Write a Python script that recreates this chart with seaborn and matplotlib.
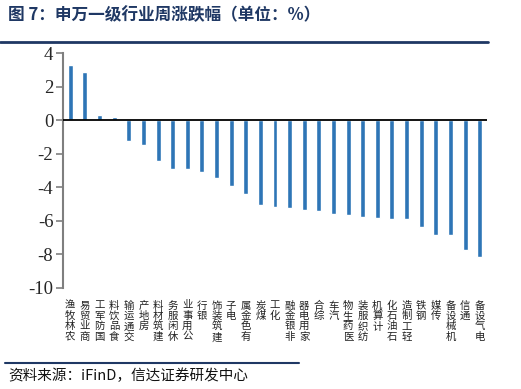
import matplotlib
matplotlib.use("Agg")
import matplotlib.pyplot as plt
import seaborn as sns
import pandas as pd
from matplotlib.lines import Line2D

industries = ["农林牧渔", "商业贸易", "国防军工", "食品饮料", "交通运输", "房地产", "建筑材料",
              "休闲服务", "公用事业", "银行", "建筑装饰", "电子", "有色金属", "煤炭", "化工",
              "非银金融", "家用电器", "综合", "汽车", "医药生物", "纺织服装", "计算机",
              "石油石化", "轻工制造", "钢铁", "传媒", "机械设备", "通信", "电气设备"]
changes = [3.28, 2.87, 0.28, 0.18, -1.27, -1.49, -2.43, -2.89, -2.93, -3.08, -3.44, -3.92,
           -4.40, -5.07, -5.19, -5.23, -5.36, -5.39, -5.57, -5.65, -5.77, -5.83, -5.87,
           -5.89, -6.35, -6.85, -6.86, -7.74, -8.14]
y_ticks = [4, 2, 0, -2, -4, -6, -8, -10]

title = "图 7：申万一级行业周涨跌幅（单位：%）"
source = "资料来源：iFinD，信达证券研发中心"

sns.set_theme(style="white")
plt.rcParams['font.family'] = ['Noto Sans CJK SC', 'DejaVu Sans']

df = pd.DataFrame({"industry": industries, "change": changes})

fig = plt.figure(figsize=(5.21, 3.89), dpi=100)
ax = fig.add_axes([63/521, 1 - 288/389, (487 - 63)/521, (288 - 53)/389])

sns.barplot(data=df, x="industry", y="change", color="#2E75B6", saturation=1,
            width=0.34, ax=ax)

ax.set_ylim(-10, 4)
ax.set_xlim(-0.5, len(industries) - 0.5)
ax.set_yticks(y_ticks)
ax.set_yticklabels([str(t) for t in y_ticks], fontfamily="Liberation Serif", fontsize=13.5)
ax.axhline(0, color="black", lw=1.3, zorder=3)

for s in ["top", "right", "bottom"]:
    ax.spines[s].set_visible(False)
ax.spines["left"].set_color("#7F7F7F")
ax.spines["left"].set_linewidth(1.5)
ax.tick_params(axis="y", which="major", left=True, length=5, width=1.2, color="#7F7F7F",
               pad=2)
ax.tick_params(axis="x", bottom=False, pad=3)
ax.set_xticks(range(len(industries)))
ax.set_xticklabels(["\n".join(reversed(list(n))) for n in industries], fontsize=7.5,
                   linespacing=1.05, va="top", color="#222222")
ax.set_xlabel("")
ax.set_ylabel("")
ax.grid(False)

fig.text(8/521, 1 - 15/389, title, fontsize=12, fontweight="bold", color="#1F3864",
         va="center", ha="left")
fig.add_artist(Line2D([0, 488/521], [1 - 41.5/389, 1 - 41.5/389], color="#1F3864",
                      lw=2, transform=fig.transFigure))
fig.add_artist(Line2D([5/521, 299/521], [1 - 363/389, 1 - 363/389], color="#1F3864",
                      lw=1.5, transform=fig.transFigure))
fig.text(8/521, 1 - 376/389, source, fontsize=10.5, style="italic", color="#111111",
         va="center", ha="left")

fig.savefig("out.png", dpi=100)
